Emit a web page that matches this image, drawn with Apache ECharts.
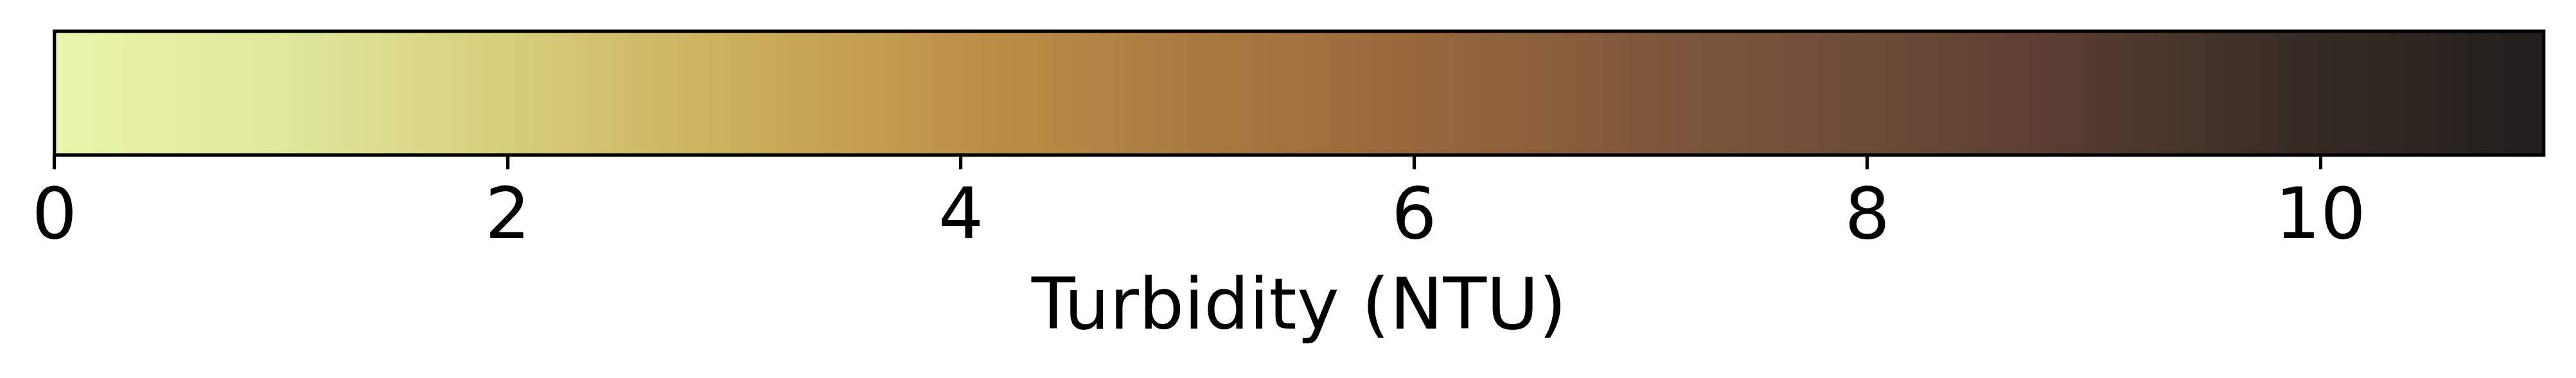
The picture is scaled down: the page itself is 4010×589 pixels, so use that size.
<!DOCTYPE html>
<html>
<head>
<meta charset="utf-8">
<script src="https://cdn.jsdelivr.net/npm/echarts@6/dist/echarts.min.js"></script>
<style>
html,body{margin:0;padding:0;background:#fff;}
#chart{width:4010px;height:589px;}
</style>
</head>
<body>
<div id="chart"></div>
<script>
// Colorbar range (NTU)
const rangeMin = 0;
const rangeMax = 10.985;
// Tick values and labels
const tickValues = [0, 2, 4, 6, 8, 10];
const tickLabels = ['0', '2', '4', '6', '8', '10'];
// Colormap stops (value in NTU, colour)
const stopValues = [0, 1, 2, 3, 4, 5, 6, 7, 8, 8.9, 9.5, 10, 10.985];
const stopColors = ['#E9F6AB', '#E0E89B', '#D6CE7C', '#CBAF5C', '#BD9148', '#AA7A40', '#98683C', '#80583B', '#6C4C38', '#583C30', '#423429', '#342A24', '#221E1B'];
const axisTitle = 'Turbidity (NTU)';

const colorStops = stopValues.map((v, i) => ({ offset: (v - rangeMin) / (rangeMax - rangeMin), color: stopColors[i] }));
const chart = echarts.init(document.getElementById('chart'), null, { renderer: 'canvas' });
const font = 'DejaVu Sans';
chart.setOption({
  animation: false,
  backgroundColor: '#ffffff',
  grid: {
    left: 84.7, right: 50.3, top: 48.7, bottom: 347.3, containLabel: false,
    show: true, z: 5, borderColor: '#000', borderWidth: 5.3, backgroundColor: 'transparent'
  },
  xAxis: {
    type: 'value', min: rangeMin, max: rangeMax, z: 10,
    axisLine: { show: false },
    axisTick: { show: true, length: 22, lineStyle: { color: '#000', width: 5.3 }, customValues: tickValues },
    axisLabel: {
      show: true, customValues: tickValues,
      formatter: v => tickLabels[tickValues.indexOf(v)] ?? '',
      fontSize: 111, fontFamily: font, color: '#000', margin: 45
    },
    splitLine: { show: false },
    name: axisTitle, nameLocation: 'middle', nameGap: 186,
    nameTextStyle: { fontSize: 111, fontFamily: font, color: '#000' }
  },
  yAxis: { type: 'category', data: ['bar'], show: false, boundaryGap: true },
  series: [{
    type: 'bar', data: [rangeMax], barWidth: '100%', silent: true, z: 1,
    itemStyle: { color: new echarts.graphic.LinearGradient(0, 0, 1, 0, colorStops), borderWidth: 0 }
  }]
});
</script>
</body>
</html>
